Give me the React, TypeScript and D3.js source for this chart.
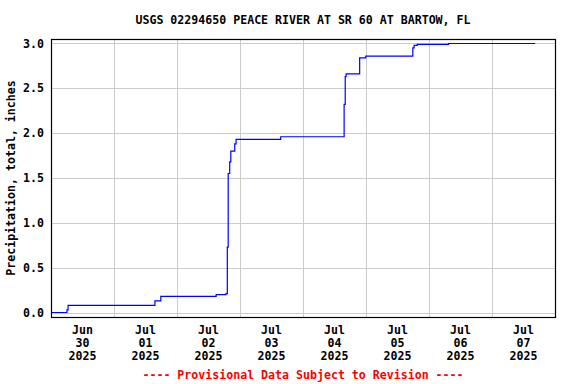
import React from "react";
import * as d3 from "d3";

// precipitation, cumulative, step data
const times = [
  "2025-06-30 00:00",
  "2025-06-30 06:05",
  "2025-06-30 06:30",
  "2025-07-01 15:35",
  "2025-07-01 17:50",
  "2025-07-02 14:55",
  "2025-07-02 18:40",
  "2025-07-02 19:10",
  "2025-07-02 19:30",
  "2025-07-02 20:05",
  "2025-07-02 20:30",
  "2025-07-02 22:00",
  "2025-07-02 22:30",
  "2025-07-03 15:30",
  "2025-07-04 15:40",
  "2025-07-04 16:05",
  "2025-07-04 16:25",
  "2025-07-04 21:35",
  "2025-07-04 23:55",
  "2025-07-05 17:50",
  "2025-07-05 18:20",
  "2025-07-05 19:30",
  "2025-07-06 07:25",
  "2025-07-07 16:25",
];
const values = [
  0.0, 0.03, 0.08, 0.13, 0.18, 0.2, 0.21, 0.73, 1.55, 1.68, 1.8, 1.88, 1.93,
  1.96, 2.32, 2.63, 2.66, 2.84, 2.86, 2.95, 2.98, 2.99, 3.0, 3.0,
];

const yTicks = [0, 0.5, 1.0, 1.5, 2.0, 2.5, 3.0];
const dayLabels = [
  ["Jun", "30", "2025"],
  ["Jul", "01", "2025"],
  ["Jul", "02", "2025"],
  ["Jul", "03", "2025"],
  ["Jul", "04", "2025"],
  ["Jul", "05", "2025"],
  ["Jul", "06", "2025"],
  ["Jul", "07", "2025"],
];

const title = "USGS 02294650 PEACE RIVER AT SR 60 AT BARTOW, FL";
const yLabel = "Precipitation, total, inches";
const footer = "---- Provisional Data Subject to Revision ----";

const parse = d3.timeParse("%Y-%m-%d %H:%M");

const App = () => {
  const width = 576;
  const height = 384;
  const margin = { top: 39, right: 21, bottom: 67, left: 51 };
  const innerWidth = width - margin.left - margin.right;
  const innerHeight = height - margin.top - margin.bottom;

  const data = times.map((t, i) => ({ date: parse(t) as Date, value: values[i] }));

  const start = parse("2025-06-30 00:00") as Date;
  const end = parse("2025-07-08 00:00") as Date;

  const xScale = d3.scaleTime().domain([start, end]).range([0, innerWidth]);
  const yScale = d3.scaleLinear().domain([-0.05, 3.05]).range([innerHeight, 0]);

  const days = d3.timeDay.range(start, end);
  const midnights = days.slice(1);

  const line = d3
    .line<{ date: Date; value: number }>()
    .x((d) => xScale(d.date))
    .y((d) => yScale(d.value))
    .curve(d3.curveStepAfter);

  const font = "'DejaVu Sans Mono', monospace";

  return (
    <svg
      width={width}
      height={height}
      style={{ position: "absolute", left: 0, top: 0, background: "#fff" }}
      fontFamily={font}
      fontWeight="bold"
      fontSize={11.6}
    >
      <rect width={width} height={height} fill="#fff" />
      <text x={margin.left + innerWidth / 2} y={24} textAnchor="middle" fill="#000">
        {title}
      </text>
      <g transform={`translate(${margin.left},${margin.top})`}>
        {
          // gridlines
          yTicks.map((v) => (
            <line
              key={"y" + v}
              x1={0}
              x2={innerWidth}
              y1={Math.round(yScale(v)) + 0.5}
              y2={Math.round(yScale(v)) + 0.5}
              stroke="#cccccc"
            />
          ))
        }
        {midnights.map((d) => (
          <line
            key={"x" + d.getTime()}
            x1={Math.round(xScale(d)) + 0.5}
            x2={Math.round(xScale(d)) + 0.5}
            y1={0}
            y2={innerHeight}
            stroke="#cccccc"
          />
        ))}
        <path
          d={line(data) || ""}
          fill="none"
          stroke="#0000ff"
          strokeWidth={1.2}
        />
        <rect
          x={0.5}
          y={0.5}
          width={innerWidth}
          height={innerHeight}
          fill="none"
          stroke="#000"
          strokeWidth={1.2}
        />
        {yTicks.map((v) => (
          <text
            key={"yl" + v}
            x={-7}
            y={yScale(v)}
            dy="0.36em"
            textAnchor="end"
            fill="#000"
          >
            {v.toFixed(1)}
          </text>
        ))}
        {days.map((d, i) => (
          <text
            key={"xl" + i}
            x={xScale(d3.timeHour.offset(d, 12))}
            y={innerHeight + 17}
            textAnchor="middle"
            fill="#000"
          >
            {dayLabels[i].map((s, j) => (
              <tspan key={j} x={xScale(d3.timeHour.offset(d, 12))} dy={j === 0 ? 0 : 13}>
                {s}
              </tspan>
            ))}
          </text>
        ))}
      </g>
      <text
        transform={`translate(15,${margin.top + innerHeight / 2}) rotate(-90)`}
        textAnchor="middle"
        fill="#000"
      >
        {yLabel}
      </text>
      <text x={margin.left + innerWidth / 2} y={379} textAnchor="middle" fill="#ff0000">
        {footer}
      </text>
    </svg>
  );
};

export default App;
